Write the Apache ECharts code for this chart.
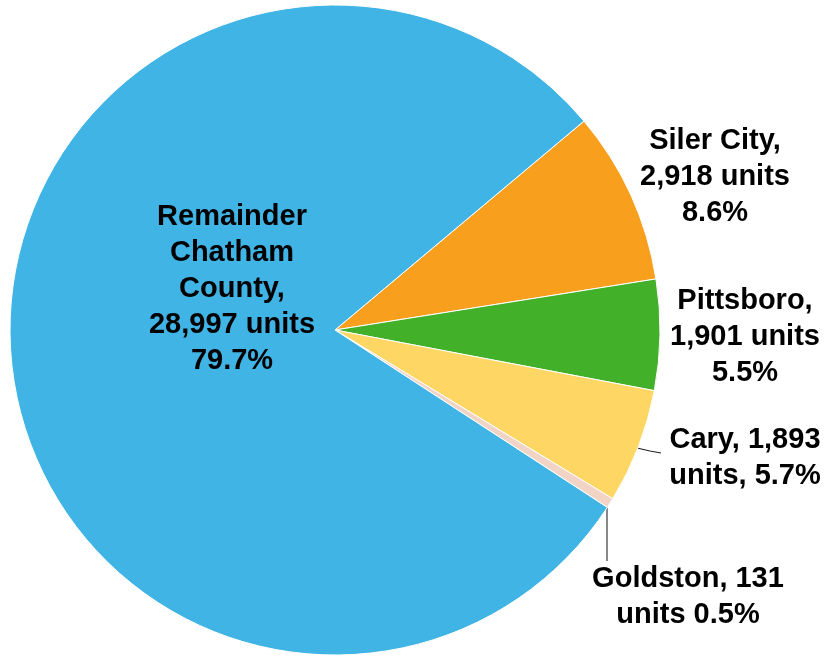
<!DOCTYPE html>
<html>
<head>
    <meta charset="utf-8">
    <script src="https://cdn.jsdelivr.net/npm/echarts@6/dist/echarts.min.js"></script>
    <style>
        html, body { margin: 0; padding: 0; background: #fff; }
    </style>
</head>
<body>
<div id="main" style="width: 833px;height: 656px;"></div>
<script type="text/javascript">

    // data, in drawing order (clockwise from the top of Siler City)
    var towns = ['Siler City', 'Pittsboro', 'Cary', 'Goldston', 'Remainder Chatham County'];
    var units = [2918, 1901, 1893, 131, 28997];
    var share = [8.6, 5.5, 5.7, 0.5, 79.7];
    // how each label is broken into lines; {u} = units, {p} = share
    var labelText = [
        'Siler City,\n{u} units\n{p}%',
        'Pittsboro,\n{u} units\n{p}%',
        'Cary, {u}\nunits, {p}%',
        'Goldston, {u}\nunits {p}%',
        'Remainder\nChatham\nCounty,\n{u} units\n{p}%'
    ];
    var colors = ['#F99F1E', '#43B02A', '#FDD663', '#F2D4C6', '#41B4E6'];

    // where the labels sit (centre of each text block)
    var labelPos = [[715, 177], [745, 337], [745, 458], [688, 597], [232, 289]];

    function fmt(n) {
        return n.toString().replace(/\B(?=(\d{3})+(?!\d))/g, ',');
    }

    var pieData = [];
    for (var i = 0; i < towns.length; i++) {
        var item = {
            name: towns[i],
            value: share[i],
            itemStyle: { color: colors[i] },
            labelLine: { show: false }
        };
        if (i == 2) item.labelLine = { show: true, lineStyle: { color: '#222', width: 1.2 } };
        if (i == 3) item.labelLine = { show: true, lineStyle: { color: '#888', width: 2 } };
        pieData.push(item);
    }

    var myChart = echarts.init(document.getElementById('main'));

    var option = {
        animation: false,
        series: [{
            type: 'pie',
            center: [335, 330],
            radius: [0, 325],
            startAngle: 40,
            clockwise: true,
            avoidLabelOverlap: false,
            data: pieData,
            itemStyle: { borderColor: '#fff', borderWidth: 1 },
            label: {
                show: true,
                position: 'outside',
                color: '#000',
                fontFamily: 'Liberation Sans, Arial, sans-serif',
                fontWeight: 'bold',
                fontSize: 29,
                lineHeight: 36,
                align: 'center',
                overflow: 'none',
                formatter: function (p) {
                    var k = p.dataIndex;
                    return labelText[k].replace('{u}', fmt(units[k])).replace('{p}', share[k].toFixed(1));
                }
            },
            labelLayout: function (params) {
                var k = params.dataIndex;
                var res = {
                    x: labelPos[k][0],
                    y: labelPos[k][1],
                    align: 'center',
                    verticalAlign: 'middle',
                    hideOverlap: false
                };
                if (k == 2) {
                    res.labelLinePoints = [[637, 448], [650, 451], [661, 453]];
                } else if (k == 3) {
                    res.labelLinePoints = [[607, 503], [607, 530], [607, 561]];
                }
                return res;
            }
        }]
    };

    myChart.setOption(option);
</script>
</body>
</html>
